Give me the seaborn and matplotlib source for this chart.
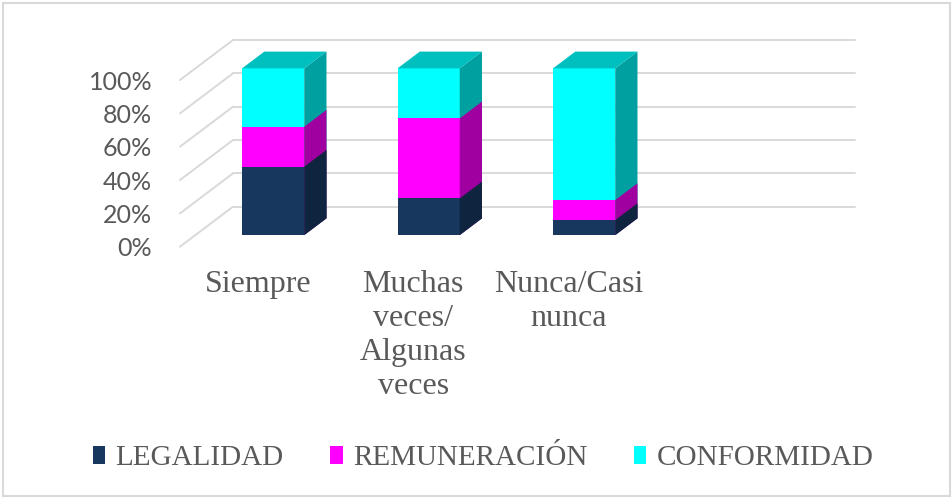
import numpy as np
import pandas as pd
import matplotlib.pyplot as plt
import seaborn as sns
from matplotlib.patches import Polygon, Patch, Rectangle

# data (percent of each category)
categories = ["Siempre", "Muchas\nveces/\nAlgunas\nveces", "Nunca/Casi\nnunca"]
series = ["LEGALIDAD", "REMUNERACIÓN", "CONFORMIDAD"]
legalidad = [41, 22, 9]
remuneracion = [24, 48, 12]
conformidad = [35, 30, 79]
y_ticks = [0, 20, 40, 60, 80, 100]

front_colors = ["#17375E", "#FF00FF", "#00FFFF"]
side_colors = ["#0F243E", "#A000A0", "#00A0A0"]
top_color = "#00BFBF"
grid_color = "#D9D9D9"
text_color = "#595959"

df = pd.DataFrame({"categoria": categories, "LEGALIDAD": legalidad,
                   "REMUNERACIÓN": remuneracion, "CONFORMIDAD": conformidad})
cum = df[series].cumsum(axis=1)

sns.set_theme(style="white")
plt.rcParams["font.family"] = ["Liberation Serif", "DejaVu Serif"]

fig = plt.figure(figsize=(9.53, 4.99), dpi=100)
ax = fig.add_axes([180 / 953, (499 - 246.7) / 499, 622 / 953, 166.7 / 499])

# stacked bars: draw cumulative totals, tallest first
containers = []
for name, fc in reversed(list(zip(series, front_colors))):
    sns.barplot(x=df["categoria"], y=cum[name], color=fc, width=0.4,
                saturation=1, linewidth=0, ax=ax)
    containers.append(ax.containers[-1])

ax.set_xlim(-0.5, 3.5)
ax.set_ylim(0, 100)

# depth of the fake 3D box, in data units (53 px right, 40 px up)
ddx, ddy = ax.transData.inverted().transform(ax.transData.transform((0, 0)) + np.array([53, 40]))
d0, d1 = 0.29, 0.71

# back wall and side wall gridlines
for t in y_ticks:
    ax.plot([-0.5 + ddx, 3.5 + ddx], [t + ddy, t + ddy], color=grid_color, lw=1.4,
            clip_on=False, zorder=0)
    ax.plot([-0.5, -0.5 + ddx], [t, t + ddy], color=grid_color, lw=1.4,
            clip_on=False, zorder=0)

sides = list(reversed(side_colors))
for k, bars in enumerate(containers):
    z = 3 + k
    for bar in bars:
        bar.set_x(bar.get_x() + ddx * d0)
        bar.set_y(bar.get_y() + ddy * d0)
        bar.set_clip_on(False)
        bar.set_zorder(z)
        x0, y0 = bar.get_x(), bar.get_y()
        x1, y1 = x0 + bar.get_width(), y0 + bar.get_height()
        sx, sy = ddx * (d1 - d0), ddy * (d1 - d0)
        ax.add_patch(Polygon([(x1, y0), (x1, y1), (x1 + sx, y1 + sy), (x1 + sx, y0 + sy)],
                             closed=True, facecolor=sides[k], edgecolor="none",
                             clip_on=False, zorder=z))
        if k == 0:
            ax.add_patch(Polygon([(x0, y1), (x1, y1), (x1 + sx, y1 + sy), (x0 + sx, y1 + sy)],
                                 closed=True, facecolor=top_color, edgecolor="none",
                                 clip_on=False, zorder=z))

ax.set_xticks(range(len(categories)))
ax.set_xticklabels(categories, fontsize=23, color=text_color, linespacing=1.22)
ax.set_yticks(y_ticks)
ax.set_yticklabels([f"{t}%" for t in y_ticks], fontsize=18, color=text_color,
                   family=["Lato", "DejaVu Sans"])
ax.tick_params(axis="y", length=0, pad=20)
ax.tick_params(axis="x", length=0, pad=17)
ax.set_xlabel("")
ax.set_ylabel("")
sns.despine(ax=ax, left=True, bottom=True)

handles = [Patch(facecolor=c, edgecolor="none") for c in front_colors]
fig.legend(handles, series, loc="center", bbox_to_anchor=(0.507, 0.082), ncol=3,
           frameon=False, fontsize=21, handlelength=0.42, handleheight=0.6,
           handletextpad=0.35, columnspacing=1.6, labelcolor=text_color)

fig.patches.append(Rectangle((3 / 953, 3 / 499), 947 / 953, 493 / 499, transform=fig.transFigure,
                             fill=False, edgecolor=grid_color, lw=1.5))

fig.savefig("out.png", dpi=100)
